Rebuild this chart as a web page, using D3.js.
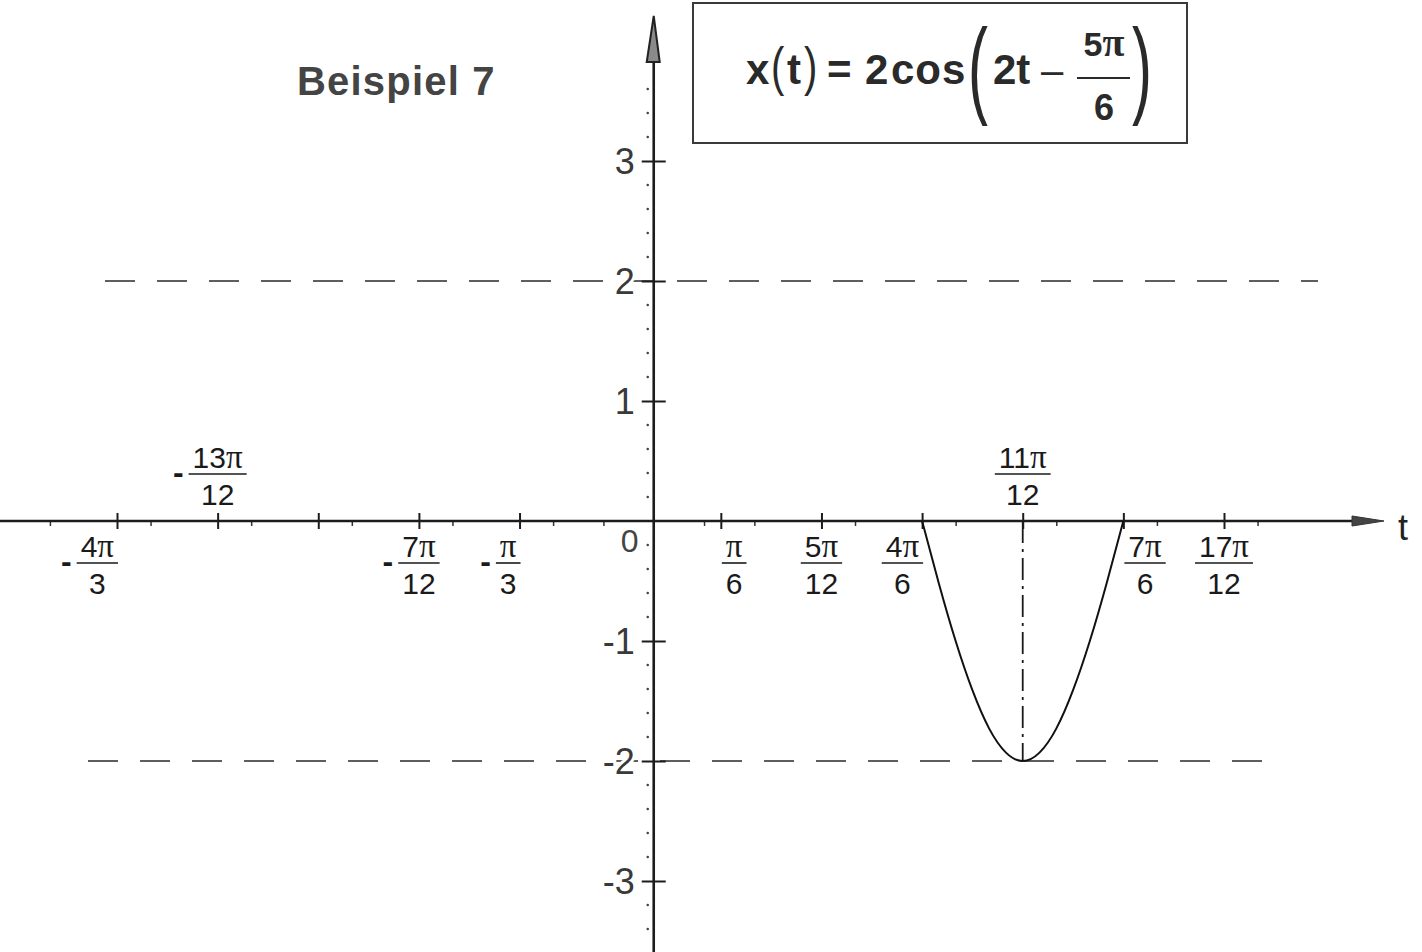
<!DOCTYPE html>
<html>
<head>
<meta charset="utf-8">
<script src="https://cdn.jsdelivr.net/npm/d3@7"></script>
<style>
  body { margin: 0; background: #fff; }
  svg { display: block; }
</style>
</head>
<body>
<svg id="chart" width="1422" height="952"></svg>
<script>
// Time values are given in units of π/12.
const majorTicks = [-16, -13, -10, -7, -4, 2, 5, 8, 11, 14, 17];
const minorTicks = [-18, -15, -12, -9, -6, -3, -1.5, 1.5, 3, 6, 9, 12, 15, 18];

const labelTicks        = [-16, -13, -7, -4, 2, 5, 8, 11, 14, 17];
const labelSigns        = ["-", "-", "-", "-", "", "", "", "", "", ""];
const labelNumerators   = ["4π", "13π", "7π", "π", "π", "5π", "4π", "11π", "7π", "17π"];
const labelDenominators = ["3", "12", "12", "3", "6", "12", "6", "12", "6", "12"];
const labelSides        = ["below", "above", "below", "below", "below", "below", "below", "above", "below", "below"];
const labelAligns       = ["end", "middle", "middle", "end", "start", "middle", "end", "middle", "start", "middle"];

const yTicks      = [-3, -2, -1, 1, 2, 3];
const yTickLabels = ["-3", "-2", "-1", "1", "2", "3"];

// amplitude reference lines
const amplitudeLevels = [2, -2];

// one dip of x(t) = 2cos(2t − 5π/6), t in π/12 units
const curveT = [8, 8.5, 9, 9.5, 10, 10.5, 11, 11.5, 12, 12.5, 13, 13.5, 14];
const curveX = [0, -0.52, -1.0, -1.41, -1.73, -1.93, -2.0, -1.93, -1.73, -1.41, -1.0, -0.52, 0];

// minimum of the dip
const minT = 11;
const minX = -2;

const W = 1422, H = 952;
const svg = d3.select("#chart");
const sans = "'Liberation Sans', Arial, sans-serif";
const serif = "'Liberation Serif', 'Times New Roman', serif";
const ink = "#1c1c1c";

const x = d3.scaleLinear().domain([-16, 17]).range([117, 1224]);
const y = d3.scaleLinear().domain([-3, 3]).range([881, 161]);
const ax = x(0), ay = y(0);

// ---- amplitude reference lines ----
const refSpans = [[105, 1318], [88, 1280]];
svg.append("g").selectAll("line")
  .data(amplitudeLevels)
  .join("line")
  .attr("x1", (d, i) => refSpans[i][0])
  .attr("x2", (d, i) => refSpans[i][1])
  .attr("y1", d => y(d)).attr("y2", d => y(d))
  .attr("stroke", "#2a2a2a")
  .attr("stroke-width", 1.6)
  .attr("stroke-dasharray", "30,22");

// ---- vertical dash-dot line through the minimum ----
svg.append("line")
  .attr("x1", x(minT)).attr("x2", x(minT))
  .attr("y1", ay).attr("y2", y(minX))
  .attr("stroke", "#1a1a1a")
  .attr("stroke-width", 1.8)
  .attr("stroke-dasharray", "22,6,3,6");

// ---- x axis ----
const xAxis = d3.axisBottom(x).tickValues(majorTicks).tickFormat("").tickSizeOuter(0);
const gx = svg.append("g").attr("transform", `translate(0,${ay})`).call(xAxis);
gx.select(".domain").remove();
gx.selectAll(".tick line").attr("y1", -8).attr("y2", 8).attr("stroke", ink).attr("stroke-width", 2);

const xMinor = d3.axisBottom(x).tickValues(minorTicks).tickFormat("").tickSizeOuter(0);
const gxm = svg.append("g").attr("transform", `translate(0,${ay})`).call(xMinor);
gxm.select(".domain").remove();
gxm.selectAll(".tick line").attr("y1", 0).attr("y2", 5).attr("stroke", "#333").attr("stroke-width", 1.5);

svg.append("line")
  .attr("x1", 0).attr("x2", 1360)
  .attr("y1", ay).attr("y2", ay)
  .attr("stroke", ink).attr("stroke-width", 2.6);
svg.append("path")
  .attr("d", `M1352,${ay - 5} L1384,${ay} L1352,${ay + 5} Z`)
  .attr("fill", "#444").attr("stroke", "#333").attr("stroke-width", 1);
svg.append("text")
  .attr("x", 1398).attr("y", ay + 19)
  .attr("font-family", sans).attr("font-size", 36)
  .attr("fill", "#222").text("t");

// ---- fractional tick labels ----
labelTicks.forEach((t, i) => {
  const barY = labelSides[i] === "below" ? ay + 42 : ay - 47;
  const g = svg.append("g").attr("font-family", sans).attr("font-size", 30).attr("fill", "#1a1a1a");

  const num = g.append("text").attr("x", 0).attr("y", barY - 6).attr("text-anchor", "middle");
  const s = labelNumerators[i];
  const digits = s.replace("π", "");
  if (digits) num.append("tspan").text(digits);
  num.append("tspan").attr("font-family", serif).attr("font-size", 33).text("π");

  const den = g.append("text").attr("x", 0).attr("y", barY + 31)
    .attr("text-anchor", "middle").text(labelDenominators[i]);

  const w = Math.max(num.node().getComputedTextLength(), den.node().getComputedTextLength()) + 8;
  g.append("line")
    .attr("x1", -w / 2).attr("x2", w / 2)
    .attr("y1", barY).attr("y2", barY)
    .attr("stroke", "#1a1a1a").attr("stroke-width", 1.6);

  if (labelSigns[i]) {
    g.append("text").attr("x", -w / 2 - 5).attr("y", barY + 9)
      .attr("text-anchor", "end").attr("font-size", 32).attr("font-weight", "bold").text(labelSigns[i]);
  }

  // place the label beside, or centred on, its tick
  let cx = x(t);
  if (labelAligns[i] === "start") cx = x(t) + w / 2 + 1;
  if (labelAligns[i] === "end") cx = x(t) - w / 2 + 1;
  g.attr("transform", `translate(${cx},0)`);
});

svg.append("text")
  .attr("x", ax - 24).attr("y", ay + 31)
  .attr("text-anchor", "middle")
  .attr("font-family", sans).attr("font-size", 32)
  .attr("fill", "#444").text("0");

// ---- y axis ----
const yMinorVals = d3.range(-17, 19).map(v => v / 5).filter(v => Math.abs(v - Math.round(v)) > 1e-6);
svg.append("g").selectAll("circle")
  .data(yMinorVals)
  .join("circle")
  .attr("cx", ax - 6)
  .attr("cy", d => y(d))
  .attr("r", 1.3)
  .attr("fill", "#444");

const yAxis = d3.axisLeft(y).tickValues(yTicks).tickFormat((d, i) => yTickLabels[i]).tickSizeOuter(0);
const gy = svg.append("g").attr("transform", `translate(${ax},0)`).call(yAxis);
gy.select(".domain").remove();
gy.selectAll(".tick line").attr("x1", -12).attr("x2", 12).attr("stroke", ink).attr("stroke-width", 2);
gy.selectAll(".tick text")
  .attr("x", -19).attr("dy", "0.36em")
  .attr("font-family", sans).attr("font-size", 36)
  .attr("fill", "#3a3a3a")
  .attr("stroke", "#fff").attr("stroke-width", 6).attr("paint-order", "stroke");

svg.append("line")
  .attr("x1", ax).attr("x2", ax)
  .attr("y1", H).attr("y2", 60)
  .attr("stroke", ink).attr("stroke-width", 2.6);
svg.append("path")
  .attr("d", `M${ax},16 L${ax + 6},62 L${ax - 7},62 Z`)
  .attr("fill", "#8a8a8a").attr("stroke", "#222").attr("stroke-width", 2);

// ---- curve ----
const pts = curveT.map((t, i) => [t, curveX[i]]);
svg.append("path")
  .datum(pts)
  .attr("d", d3.line().x(d => x(d[0])).y(d => y(d[1])).curve(d3.curveNatural))
  .attr("fill", "none")
  .attr("stroke", "#111")
  .attr("stroke-width", 2);

// ---- title ----
svg.append("text")
  .attr("x", 297).attr("y", 95)
  .attr("font-family", sans).attr("font-size", 40).attr("font-weight", "bold")
  .attr("letter-spacing", 1.2)
  .attr("fill", "#444").text("Beispiel 7");

// ---- formula box ----
const fg = svg.append("g").attr("font-family", sans).attr("fill", "#2a2a2a");
fg.append("rect")
  .attr("x", 693).attr("y", 3).attr("width", 494).attr("height", 140)
  .attr("fill", "none").attr("stroke", "#3a3a3a").attr("stroke-width", 2);

const boldText = (tx, ty, str, size) => fg.append("text")
  .attr("x", tx).attr("y", ty)
  .attr("font-size", size).attr("font-weight", "bold").text(str);
const paren = (tx, ty, str, size, sx, sy) => fg.append("text")
  .attr("transform", `translate(${tx},${ty}) scale(${sx},${sy})`)
  .attr("font-size", size).text(str);

boldText(746, 84, "x", 42);
paren(771, 85, "(", 40, 1, 1.33);
boldText(787, 84, "t", 42);
paren(804, 85, ")", 40, 1, 1.33);
boldText(827, 84, "=", 42);
boldText(865, 84, "2", 42);
boldText(891, 84, "cos", 42).attr("letter-spacing", 1);
paren(968, 104, "(", 46, 1.3, 2.35);
boldText(993, 84, "2t", 42);
fg.append("text").attr("x", 1041).attr("y", 84).attr("font-size", 40).text("–");
const fracNum = fg.append("text").attr("x", 1104).attr("y", 56)
  .attr("text-anchor", "middle").attr("font-size", 34).attr("font-weight", "bold");
fracNum.append("tspan").text("5");
fracNum.append("tspan").attr("font-family", serif).attr("font-size", 40).text("π");
fg.append("line")
  .attr("x1", 1077).attr("x2", 1130).attr("y1", 78).attr("y2", 78)
  .attr("stroke", "#2a2a2a").attr("stroke-width", 2);
fg.append("text").attr("x", 1104).attr("y", 120)
  .attr("text-anchor", "middle").attr("font-size", 36).attr("font-weight", "bold").text("6");
paren(1132, 104, ")", 46, 1.3, 2.35);
</script>
</body>
</html>
